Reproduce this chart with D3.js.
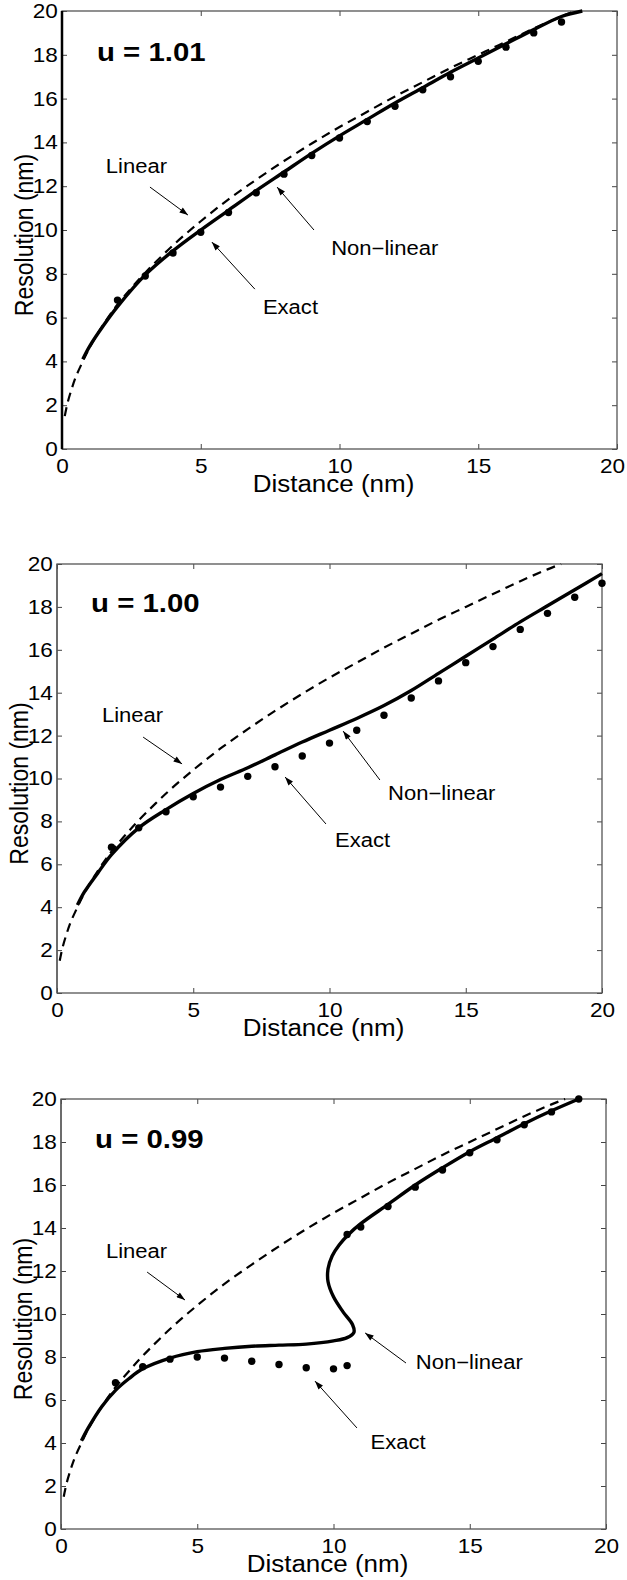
<!DOCTYPE html>
<html><head><meta charset="utf-8">
<script src="https://cdn.jsdelivr.net/npm/d3@7"></script>
<style>
body{margin:0;background:#fff}
svg{display:block}
text{font-family:"Liberation Sans",Arial,Helvetica,sans-serif;fill:#000}
</style>
</head><body>
<svg id="c" width="627" height="1580"></svg>
<script>
// ---------- data ----------
const distanceTicks = [0, 5, 10, 15, 20];
const resolutionTicks = [0, 2, 4, 6, 8, 10, 12, 14, 16, 18, 20];
const xTitle = "Distance (nm)";
const yTitle = "Resolution (nm)";
const panelTitles = ["u = 1.01", "u = 1.00", "u = 0.99"];

// Linear model (dashed), same in all panels
const linearD = [0.1,0.2,0.35,0.5,0.75,1,1.5,2,2.5,3,4,5,6,7,8,9,10,11,12,13,14,15,16,17,18,18.5];
const linearR = [1.5,2.1,2.75,3.3,4.0,4.65,5.7,6.6,7.35,8.05,9.3,10.4,11.4,12.3,13.15,13.95,14.7,15.4,16.1,16.75,17.4,18.0,18.6,19.2,19.75,20.0];

// Panel 1 (u = 1.01)
const nonlin1D = [0.75,1,1.5,2,3,4,5,6,7,8,9,10,11,12,13,14,15,16,17,18,18.75];
const nonlin1R = [4.1,4.7,5.65,6.5,7.95,9.05,10.0,10.9,11.8,12.65,13.5,14.3,15.05,15.8,16.5,17.2,17.85,18.5,19.15,19.75,20.0];
const exact1D = [2,3,4,5,6,7,8,9,10,11,12,13,14,15,16,17,18];
const exact1R = [6.8,7.9,8.95,9.9,10.8,11.7,12.55,13.4,14.2,14.95,15.65,16.4,17.0,17.7,18.35,19.0,19.5];

// Panel 2 (u = 1.00)
const nonlin2D = [0.75,1,1.5,2,3,4,5,6,7,8,9,10,11,12,13,14,15,16,17,18,19,20];
const nonlin2R = [4.1,4.7,5.6,6.45,7.7,8.55,9.3,9.95,10.5,11.1,11.7,12.25,12.8,13.4,14.1,14.9,15.7,16.5,17.3,18.05,18.8,19.55];
const exact2D = [2,3,4,5,6,7,8,9,10,11,12,13,14,15,16,17,18,19,20];
const exact2R = [6.8,7.7,8.45,9.15,9.6,10.1,10.55,11.05,11.65,12.25,12.95,13.75,14.55,15.4,16.15,16.95,17.7,18.45,19.1];

// Panel 3 (u = 0.99) – S-shaped non-linear branch
const nonlin3D = [0.75,1,1.5,2,2.5,3,4,5,6,7,8,9,10,10.5,10.75,10.7,10.35,10.0,9.8,9.8,9.95,10.2,10.55,11,12,13,14,15,16,17,18,19];
const nonlin3R = [4.1,4.7,5.7,6.45,7.0,7.45,7.95,8.25,8.4,8.5,8.55,8.6,8.75,8.9,9.15,9.5,10.1,10.8,11.5,12.1,12.7,13.2,13.7,14.2,15.1,16.0,16.8,17.55,18.2,18.85,19.45,20.0];
const exact3D = [2,3,4,5,6,7,8,9,10,10.5,10.5,11,12,13,14,15,16,17,18,19];
const exact3R = [6.8,7.55,7.9,8.0,7.95,7.8,7.65,7.5,7.45,7.6,13.7,14.05,15.0,15.9,16.7,17.5,18.1,18.8,19.4,20.0];

// Annotation labels (data coordinates): [text, labelD, labelR, tailD, tailR, headD, headR]
const notes1 = [["Linear",1.58,12.58,3.17,11.96,4.54,10.68],["Non\u2212linear",9.7,8.85,9.08,10.0,7.75,11.96],["Exact",7.24,6.15,6.95,7.3,5.4,9.45]];
const notes2 = [["Linear",1.65,12.62,3.16,11.93,4.59,10.68],["Non\u2212linear",12.15,9.0,11.85,9.93,10.5,12.21],["Exact",10.2,6.82,9.87,7.88,8.37,10.07]];
const notes3 = [["Linear",1.65,12.6,3.16,11.95,4.55,10.65],["Non\u2212linear",13.02,7.42,12.66,7.72,11.16,9.12],["Exact",11.36,3.72,10.86,4.7,9.32,6.88]];
const titlePos = [[1.26,17.7],[1.25,17.76],[1.25,17.72]];

// ---------- layout ----------
const layout = [
  {left:62, right:617, top:11, bottom:449, leftW:2.5},
  {left:57, right:602, top:564, bottom:993, leftW:1.2},
  {left:61, right:606, top:1099, bottom:1529, leftW:1.2}
];
const SX = 1.13; // horizontal text stretch of the original figure

const zip = (a, b) => a.map((v, i) => [v, b[i]]);
const panels = [
  {lin: zip(linearD, linearR), nl: zip(nonlin1D, nonlin1R), ex: zip(exact1D, exact1R), notes: notes1},
  {lin: zip(linearD, linearR), nl: zip(nonlin2D, nonlin2R), ex: zip(exact2D, exact2R), notes: notes2},
  {lin: zip(linearD, linearR), nl: zip(nonlin3D, nonlin3R), ex: zip(exact3D, exact3R), notes: notes3}
];

const svg = d3.select("#c");
svg.append("rect").attr("width",627).attr("height",1580).attr("fill","#fff");
const defs = svg.append("defs");
defs.append("marker").attr("id","ah").attr("viewBox","0 0 10 7")
  .attr("refX",10).attr("refY",3.5).attr("markerWidth",10).attr("markerHeight",6)
  .attr("markerUnits","userSpaceOnUse").attr("orient","auto")
  .append("path").attr("d","M0,0 L10,3.5 L0,7 Z").attr("fill","#000");

function stretched(g, x, y, txt) {
  return g.append("text").attr("transform",`translate(${x},${y}) scale(${SX},1)`).text(txt);
}

panels.forEach((p, i) => {
  const L = layout[i];
  const x = d3.scaleLinear().domain([0,20]).range([L.left, L.right]);
  const y = d3.scaleLinear().domain([0,20]).range([L.bottom, L.top]);
  const g = svg.append("g");

  // axes with inward ticks
  const ax = g.append("g").attr("transform",`translate(0,${L.bottom})`)
    .call(d3.axisBottom(x).tickValues(distanceTicks).tickSize(-5).tickSizeOuter(0).tickPadding(9.5));
  const ay = g.append("g").attr("transform",`translate(${L.left},0)`)
    .call(d3.axisLeft(y).tickValues(resolutionTicks).tickSize(-5).tickSizeOuter(0).tickPadding(3.6));
  const at = g.append("g").attr("transform",`translate(0,${L.top})`)
    .call(d3.axisTop(x).tickValues(distanceTicks).tickSize(-5).tickSizeOuter(0).tickFormat(""));
  const ar = g.append("g").attr("transform",`translate(${L.right},0)`)
    .call(d3.axisRight(y).tickValues(resolutionTicks).tickSize(-5).tickSizeOuter(0).tickFormat(""));
  [ax, ay, at, ar].forEach(a => {
    a.select(".domain").remove();
    a.selectAll("line").attr("stroke","#444").attr("stroke-width",1);
    a.selectAll("text").attr("font-size",20).attr("fill","#000")
      .attr("font-family",'"Liberation Sans",Arial,sans-serif')
      .attr("transform",`scale(${SX},1)`);
  });
  // keep the last x tick label inside the page
  ax.selectAll(".tick text").filter(d => d === 20 && L.right > 612).attr("dx", -5 / SX);

  // frame
  g.append("rect").attr("x",L.left).attr("y",L.top)
    .attr("width",L.right-L.left).attr("height",L.bottom-L.top)
    .attr("fill","none").attr("stroke","#555").attr("stroke-width",1.3);
  g.append("line").attr("x1",L.left).attr("x2",L.left).attr("y1",L.top).attr("y2",L.bottom)
    .attr("stroke", L.leftW > 2 ? "#000" : "#555").attr("stroke-width",L.leftW);

  const line = d3.line().x(d => x(d[0])).y(d => y(d[1])).curve(d3.curveCatmullRom.alpha(0.5));

  // linear (dashed)
  g.append("path").attr("d", line(p.lin)).attr("fill","none")
    .attr("stroke","#000").attr("stroke-width",2.2).attr("stroke-dasharray","9,6");
  // non-linear (solid)
  g.append("path").attr("d", line(p.nl)).attr("fill","none")
    .attr("stroke","#000").attr("stroke-width",3.4).attr("stroke-linejoin","round");
  // exact dots
  g.selectAll("circle.ex").data(p.ex).enter().append("circle")
    .attr("cx", d => x(d[0])).attr("cy", d => y(d[1])).attr("r",3.7).attr("fill","#000");

  // annotations
  p.notes.forEach(n => {
    stretched(g, x(n[1]), y(n[2]), n[0]).attr("font-size",19.5);
    g.append("line").attr("x1",x(n[3])).attr("y1",y(n[4])).attr("x2",x(n[5])).attr("y2",y(n[6]))
      .attr("stroke","#000").attr("stroke-width",1).attr("marker-end","url(#ah)");
  });

  // panel title
  stretched(g, x(titlePos[i][0]), y(titlePos[i][1]), panelTitles[i])
    .attr("font-size",26).attr("font-weight","bold");

  // axis titles
  stretched(g, (L.left+L.right)/2 - 6, L.bottom + 43, xTitle)
    .attr("font-size",23).attr("text-anchor","middle");
  g.append("text")
    .attr("transform",`translate(${L.left-29},${(L.top+L.bottom)/2+5}) rotate(-90) scale(1,${SX})`)
    .attr("font-size",23).attr("text-anchor","middle").text(yTitle);
});
</script>
</body></html>
